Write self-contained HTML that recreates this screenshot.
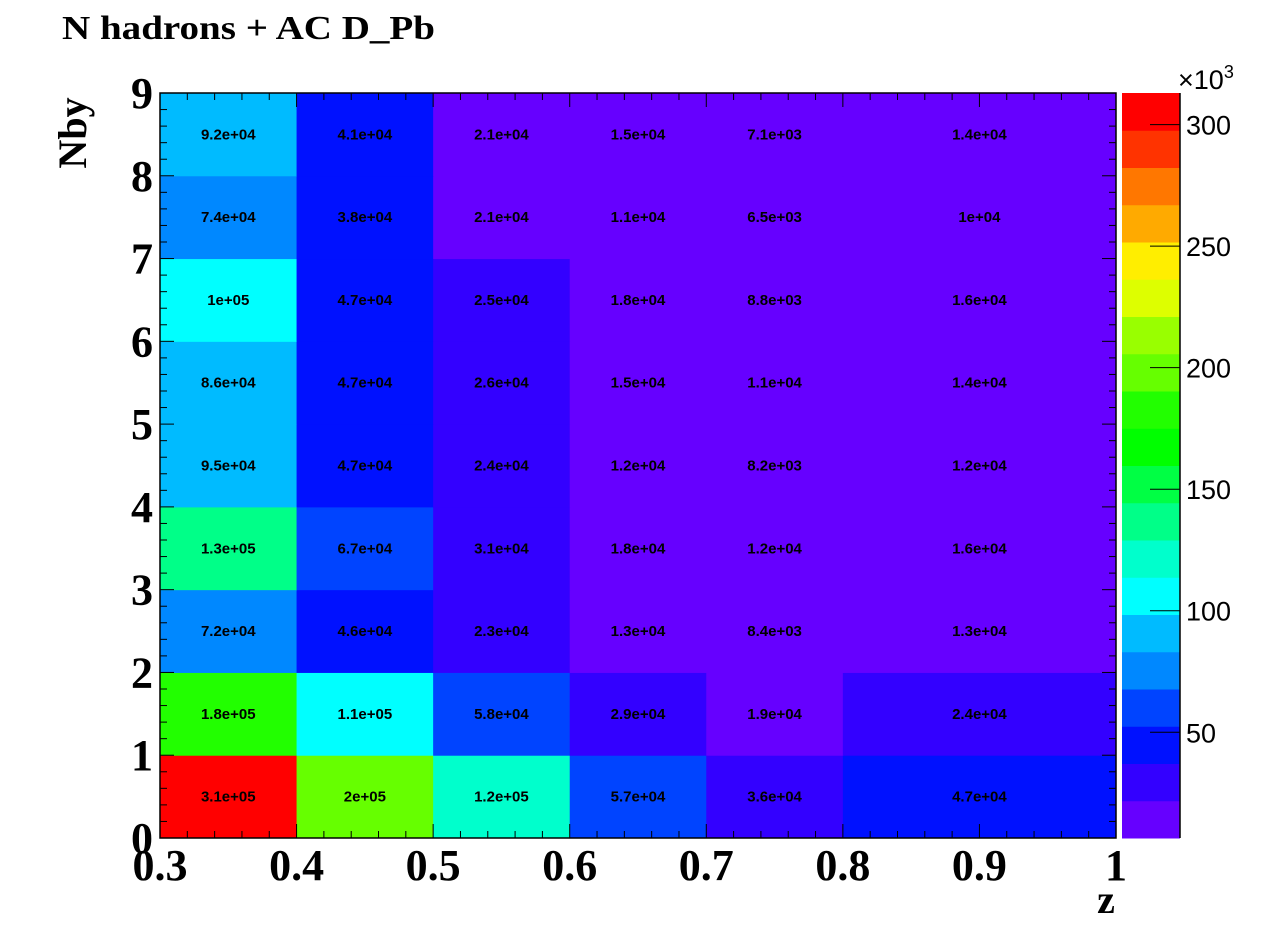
<!DOCTYPE html>
<html><head><meta charset="utf-8"><style>
html,body{margin:0;padding:0;background:#fff;}
svg text{font-family:"Liberation Serif",serif;}
</style></head><body>
<svg id="chart" width="1276" height="932" xmlns="http://www.w3.org/2000/svg">
<text x="62" y="39" font-size="34" font-weight="bold" textLength="373" lengthAdjust="spacingAndGlyphs">N hadrons + AC D_Pb</text>
<g id="cells"></g>
<g id="labels"></g>
<g id="axes"></g>
<g id="palette"></g>
<text transform="translate(86,133) rotate(-90)" text-anchor="middle" font-size="40" font-weight="bold">Nby</text>
<text x="1106" y="913" text-anchor="middle" font-size="40" font-weight="bold">z</text>
</svg>
<script>
const xEdges=[0.3,0.4,0.5,0.6,0.7,0.8,1.0];
const yEdges=[0,1,2,3,4,5,6,7,8,9];
const values=[
 [3.1e5,2e5,1.2e5,5.7e4,3.6e4,4.7e4],
 [1.8e5,1.1e5,5.8e4,2.9e4,1.9e4,2.4e4],
 [7.2e4,4.6e4,2.3e4,1.3e4,8.4e3,1.3e4],
 [1.3e5,6.7e4,3.1e4,1.8e4,1.2e4,1.6e4],
 [9.5e4,4.7e4,2.4e4,1.2e4,8.2e3,1.2e4],
 [8.6e4,4.7e4,2.6e4,1.5e4,1.1e4,1.4e4],
 [1e5,4.7e4,2.5e4,1.8e4,8.8e3,1.6e4],
 [7.4e4,3.8e4,2.1e4,1.1e4,6.5e3,1e4],
 [9.2e4,4.1e4,2.1e4,1.5e4,7.1e3,1.4e4]
];
const xTicks=[0.3,0.4,0.5,0.6,0.7,0.8,0.9,1];
const yTicks=[0,1,2,3,4,5,6,7,8,9];
const zTicks=[50,100,150,200,250,300];
const zMin=6500, zMax=313000;
const palette=["#6600ff","#3300ff","#0011ff","#0044ff","#0088ff","#00bbff","#00ffff","#00ffcc","#00ff88","#00ff44","#00ff00","#22ff00","#66ff00","#99ff00","#ddff00","#ffee00","#ffaa00","#ff7700","#ff3300","#ff0000"];

const NS="http://www.w3.org/2000/svg";
const L=160,R=1116,T=93,B=838;
const PL=1122,PR=1180;
const xs=v=>L+(v-0.3)/(0.7)*(R-L);
const ys=v=>B-v/9*(B-T);
const zs=v=>B-(v-zMin)/(zMax-zMin)*(B-T);
function colorOf(v){let i=Math.floor((v-zMin)/(zMax-zMin)*palette.length);return palette[Math.max(0,Math.min(palette.length-1,i))];}
function fmt(v){let s=Number(v.toPrecision(2)).toExponential();let [m,e]=s.split('e');let sign=e[0];let d=e.slice(1);if(d.length<2)d='0'+d;return m+'e'+sign+d;}
function mk(tag,attrs,parent){const e=document.createElementNS(NS,tag);for(const k in attrs)e.setAttribute(k,attrs[k]);parent.appendChild(e);return e;}
const cells=document.getElementById('cells'),labels=document.getElementById('labels'),axes=document.getElementById('axes'),pal=document.getElementById('palette');
for(let j=0;j<values.length;j++)for(let i=0;i<values[j].length;i++){
 const v=values[j][i];
 const x0=xs(xEdges[i]),x1=xs(xEdges[i+1]),y0=ys(yEdges[j+1]),y1=ys(yEdges[j]);
 const r=mk('rect',{x:x0,y:y0,width:x1-x0+0.5,height:y1-y0+0.5,fill:colorOf(v)},cells);
 
 
 const t=mk('text',{x:(x0+x1)/2,y:(y0+y1)/2+5,'text-anchor':'middle','font-size':'15','font-weight':'bold',style:'font-family:"Liberation Sans",sans-serif'},labels);
 t.textContent=fmt(v);
 
 
}
mk('rect',{x:L,y:T,width:R-L,height:B-T,fill:'none',stroke:'#000','stroke-width':1.5},axes);
for(let k=0;k<=35;k++){const v=0.3+k*0.02;const x=xs(v);const len=(k%5==0)?14:7;
 mk('line',{x1:x,y1:B,x2:x,y2:B-len,stroke:'#000'},axes);mk('line',{x1:x,y1:T,x2:x,y2:T+len,stroke:'#000'},axes);}
xTicks.forEach(v=>{const t=mk('text',{x:xs(v),y:880,'text-anchor':'middle','font-size':'44','font-weight':'bold'},axes);t.textContent=String(v);
 });
for(let k=0;k<=45;k++){const v=k*0.2;const y=ys(v);const len=(k%5==0)?14:7;
 mk('line',{x1:L,y1:y,x2:L+len,y2:y,stroke:'#000'},axes);mk('line',{x1:R,y1:y,x2:R-len,y2:y,stroke:'#000'},axes);}
yTicks.forEach(v=>{const t=mk('text',{x:153,y:ys(v)+15,'text-anchor':'end','font-size':'44','font-weight':'bold'},axes);t.textContent=String(v);
 });
const bh=(B-T)/palette.length;
palette.forEach((c,i)=>{const r=mk('rect',{x:PL,y:B-(i+1)*bh,width:PR-PL,height:bh+0.5,fill:c},pal);
 });
mk('line',{x1:PR,y1:T,x2:PR,y2:B,stroke:'#000','stroke-width':1.5},pal);
zTicks.forEach(v=>{const y=zs(v*1000);mk('line',{x1:PR-30,y1:y,x2:PR,y2:y,stroke:'#000'},pal);
 const t=mk('text',{x:1186,y:y+10,'font-size':'27',style:'font-family:"Liberation Sans",sans-serif'},pal);t.textContent=String(v);
 });
const ex=mk('text',{x:1178,y:89,'font-size':'27',style:'font-family:"Liberation Sans",sans-serif'},pal);
ex.innerHTML='×10<tspan dy="-11" font-size="18">3</tspan>';


</script>
</body></html>
